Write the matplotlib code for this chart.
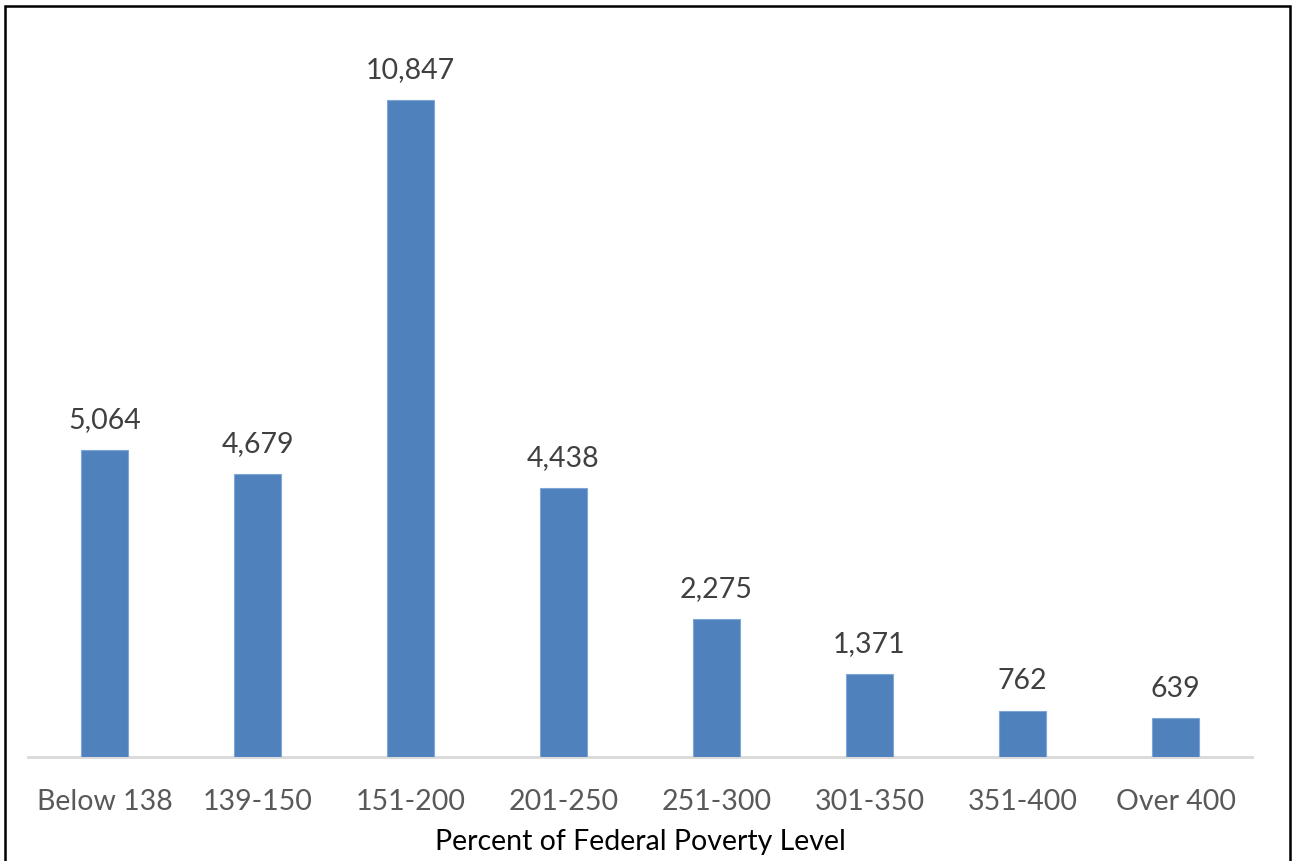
import matplotlib
matplotlib.use("Agg")
from matplotlib import pyplot as plt
from matplotlib.patches import Rectangle

categories = ['Below 138', '139-150', '151-200', '201-250', '251-300', '301-350', '351-400', 'Over 400']
values = [5064, 4679, 10847, 4438, 2275, 1371, 762, 639]

plt.rcParams['font.family'] = ['Lato', 'DejaVu Sans']

fig = plt.figure(figsize=(12.94, 8.61), dpi=100)
ax = fig.add_axes([28 / 1294, 104 / 861, 1224 / 1294, 727 / 861])

x = range(len(categories))
bars = ax.bar(x, values, width=0.31, color='#4F81BD', edgecolor='#7FA6D6', linewidth=0.8, zorder=3)

for xi, v in zip(x, values):
    ax.annotate(f'{v:,}', (xi, v), xytext=(0, 12), textcoords='offset points',
                ha='center', va='bottom', fontsize=20.5, color='#404040')

ax.set_xlim(-0.5, len(categories) - 0.5)
ax.set_ylim(0, 12000)
ax.set_xticks(list(x))
ax.set_xticklabels(categories, fontsize=20.5, color='#595959')
ax.tick_params(axis='x', length=0, pad=23)
ax.set_yticks([])
for side in ['top', 'left', 'right']:
    ax.spines[side].set_visible(False)
ax.spines['bottom'].set_color('#D9D9D9')
ax.spines['bottom'].set_linewidth(2)
ax.set_xlabel('Percent of Federal Poverty Level', fontsize=20.5, color='black', labelpad=10)

# outer frame around the chart
fig.patches.append(Rectangle((5 / 1294, -0.05), 1285 / 1294, 1.05 - 6 / 861,
                             transform=fig.transFigure, fill=False,
                             edgecolor='black', linewidth=1.8))

fig.savefig('out.png', dpi=100)
